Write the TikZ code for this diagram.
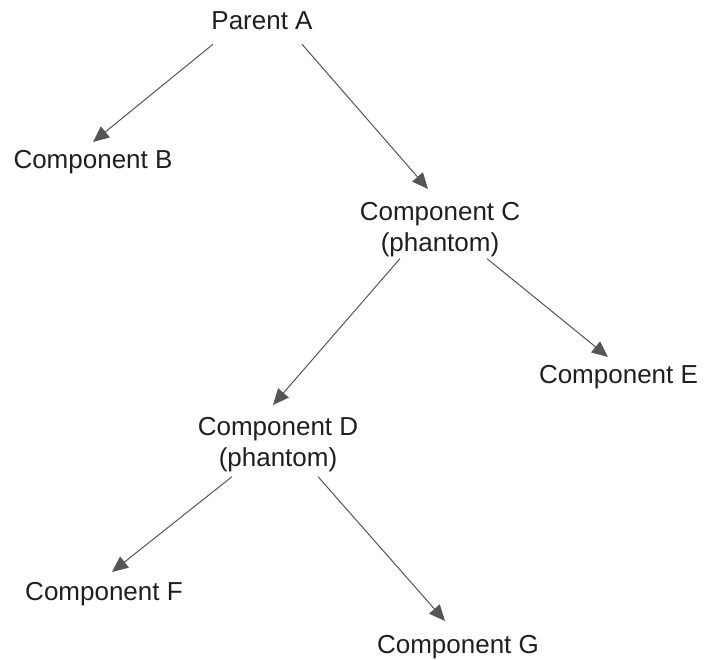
\documentclass[tikz,border=0pt]{standalone}
\usepackage{fontspec}
\setmainfont{Liberation Sans}
\usetikzlibrary{arrows.meta}
\definecolor{linegray}{RGB}{85,85,85}

\begin{document}
\begin{tikzpicture}[x=1pt, y=1pt,
every edge/.style = {draw, -{Triangle[length=16pt, width=14pt]}, line width=1pt, linegray},
         comp/.style = {font=\fontsize{26}{31}\selectfont, align=center,
                     inner sep=0pt, anchor=north, text=black!88}
                    ]
\useasboundingbox (0,0) rectangle (704,660);

\node (a) [comp] at (262,648.3) {Parent A};
\node (b) [comp] at (93,510) {Component B};
\node (c) [comp] at (440,458.3) {Component C\\(phantom)};
\node (e) [comp] at (618.5,295) {Component E};
\node (d) [comp] at (278,243.3) {Component D\\(phantom)};
\node (f) [comp] at (104,78) {Component F};
\node (g) [comp] at (458,25) {Component G};

\draw   ([xshift=-49pt,yshift=-14pt]a.south) edge ([yshift=8pt]b.north)
        ([xshift=40pt,yshift=-14pt]a.south)  edge ([xshift=-12pt,yshift=12.7pt]c.north)
        ([xshift=-40pt,yshift=-2pt]c.south)  edge ([xshift=-5pt,yshift=11.7pt]d.north)
        ([xshift=47pt,yshift=-2pt]c.south)   edge ([xshift=-10.5pt,yshift=8pt]e.north)
        ([xshift=-46pt,yshift=-5pt]d.south)  edge ([xshift=8pt,yshift=10pt]f.north)
        ([xshift=40pt,yshift=-5pt]d.south)   edge ([xshift=-13pt,yshift=14pt]g.north);
\end{tikzpicture}
\end{document}
